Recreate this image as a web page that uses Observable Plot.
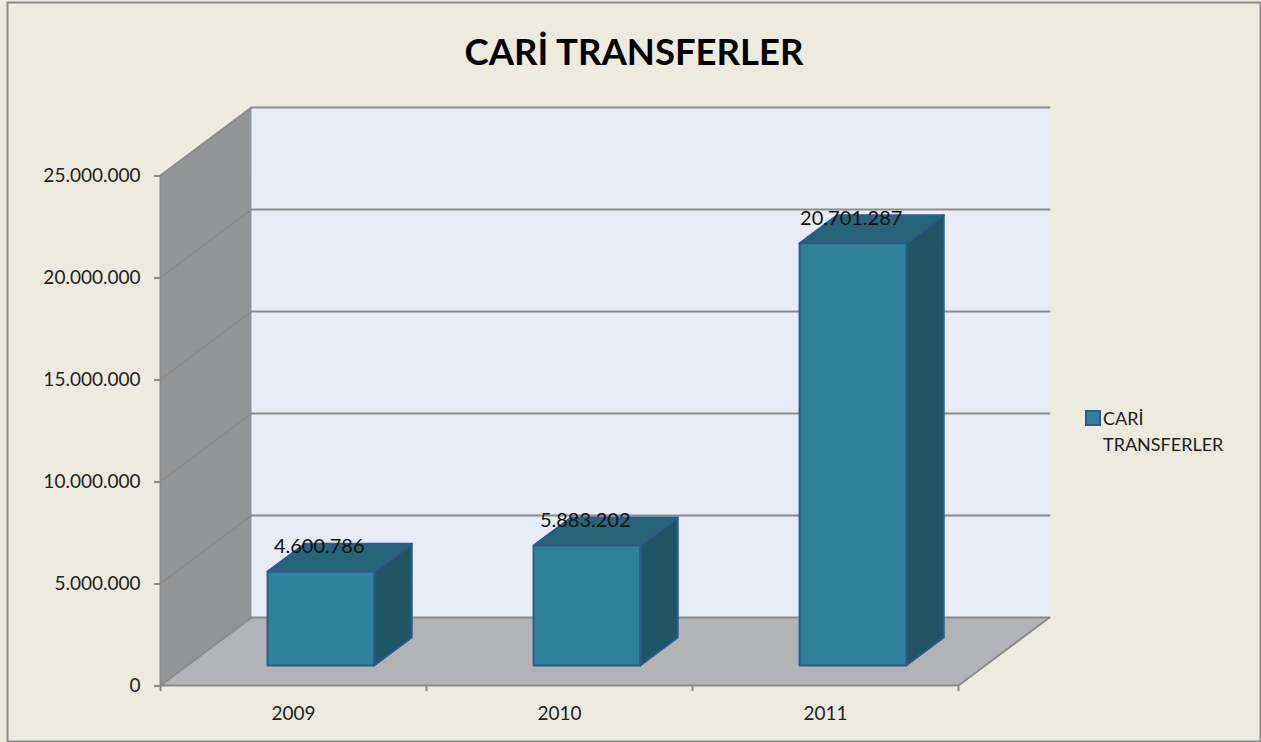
<!DOCTYPE html>
<html lang="tr">
<head>
<meta charset="utf-8">
<script src="https://cdn.jsdelivr.net/npm/d3@7"></script>
<script src="https://cdn.jsdelivr.net/npm/@observablehq/plot@0.6"></script>
<style>
  html, body { margin: 0; padding: 0; background: #edebdf; }
  #wrap { position: relative; width: 1261px; height: 742px; overflow: hidden; font-family: Lato, sans-serif; color: #1c1c1c; }
  #wrap svg { display: block; background: transparent; }
  #title { position: absolute; left: 334px; width: 600px; top: 29px; text-align: center; font-size: 36.5px; font-weight: 700; line-height: 44px; color: #000; }
  #legend { position: absolute; left: 1085px; top: 405px; font-size: 18px; line-height: 26px; }
  #legend i { position: absolute; left: 0; top: 5px; width: 12px; height: 12px; background: #2e8299; border: 2px solid #2f5a8c; }
  #legend span { display: block; padding-left: 18px; }
</style>
</head>
<body>
<div id="wrap">
  <div id="title">CARİ TRANSFERLER</div>
  <div id="legend"><i></i><span>CARİ<br>TRANSFERLER</span></div>
</div>
<script>
const years = ["2009", "2010", "2011"];
const values = [4600786, 5883202, 20701287];
const valueLabels = ["4.600.786", "5.883.202", "20.701.287"];
const yTicks = [0, 5000000, 10000000, 15000000, 20000000, 25000000];

// Oblique depth of the chart box, in data units of the two scales
const depthX = 0.342, depthY = 3333000;
const barFront = 0.294, barBack = 0.706;
const barLeft = 0.302, barRight = 0.703;
const P = (c, v, d) => ({x: c + d * depthX, y: v + d * depthY});
const yMax = yTicks[yTicks.length - 1], n = years.length;

const poly = (pts, fill, stroke = "none", strokeWidth = 2) =>
  Plot.line([...pts, pts[0]], {x: "x", y: "y", fill, stroke, strokeWidth, curve: "linear-closed"});

const gridColor = "#8b8b8b";
const marks = [
  Plot.frame({stroke: "#8c8c8c", strokeWidth: 2, insetLeft: -153, insetTop: -173, insetRight: -302, insetBottom: -56}),
  // walls and floor
  poly([P(0, 0, 1), P(n, 0, 1), P(n, yMax, 1), P(0, yMax, 1)], "#e8ecf5"),
  poly([P(0, 0, 0), P(0, 0, 1), P(0, yMax, 1), P(0, yMax, 0)], "#939496"),
  poly([P(0, 0, 0), P(n, 0, 0), P(n, 0, 1), P(0, 0, 1)], "#b1b3b7"),
  // grid lines: side wall then back wall
  ...yTicks.map(t => Plot.line([P(0, t, 0), P(0, t, 1), P(n, t, 1)], {x: "x", y: "y", stroke: gridColor, strokeWidth: 2})),
  Plot.line([P(n, 0, 1), P(n, 0, 0), P(0, 0, 0), P(0, yMax, 0)], {x: "x", y: "y", stroke: gridColor, strokeWidth: 2}),
  // bars
  ...values.flatMap((v, i) => {
    const l = i + barLeft, r = i + barRight, edge = "#2f5a8c";
    return [
      poly([P(r, 0, barFront), P(r, 0, barBack), P(r, v, barBack), P(r, v, barFront)], "#1f5564", edge),
      poly([P(l, v, barFront), P(r, v, barFront), P(r, v, barBack), P(l, v, barBack)], "#256577", edge),
      poly([P(l, 0, barFront), P(r, 0, barFront), P(r, v, barFront), P(l, v, barFront)], "#2e8299", edge)
    ];
  }),
  // value labels
  Plot.text(values, {
    x: (v, i) => P(i + 0.5, v, barFront).x,
    y: (v, i) => P(i + 0.5, v, barFront).y,
    text: (v, i) => valueLabels[i],
    dy: -25, dx: -1, fontSize: 20, fill: "#111"
  }),
  // axes
  Plot.axisY({ticks: yTicks, tickSize: 6, tickPadding: 14, label: null, fontSize: 19, fill: "#222", stroke: gridColor, strokeWidth: 2,
    tickFormat: d => d3.format(",")(d).replace(/,/g, "."), dy: 0.5}),
  Plot.axisX({ticks: d3.range(n + 1), tickSize: 6, tickFormat: () => "", label: null, stroke: gridColor, strokeWidth: 2}),
  Plot.text(years, {x: (d, i) => i + 0.5, y: 0, dy: 28, fontSize: 19, fill: "#222"})
];

const chart = Plot.plot({
  width: 1261, height: 742,
  marginLeft: 160, marginRight: 303, marginTop: 175, marginBottom: 57,
  style: {fontFamily: "Lato, sans-serif", background: "transparent", overflow: "visible"},
  x: {domain: [0, n], axis: null},
  y: {domain: [0, yMax], axis: null},
  marks
});
document.getElementById("wrap").prepend(chart);
</script>
</body>
</html>
